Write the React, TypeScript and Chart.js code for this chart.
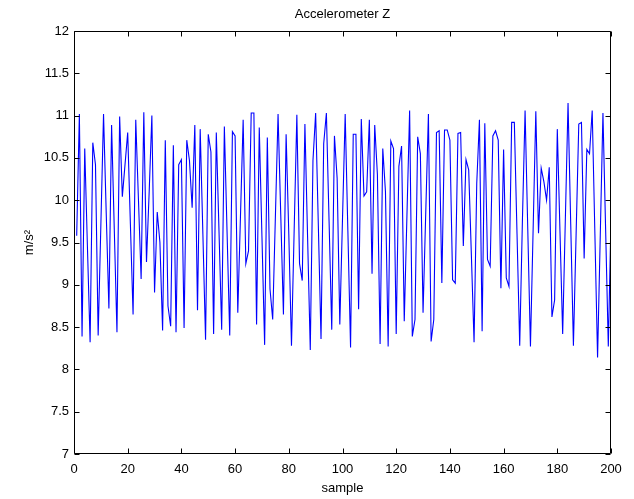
import React, { useEffect, useRef } from "react";
import { Chart, registerables } from "chart.js";

Chart.register(...registerables);

const TITLE = "Accelerometer Z";
const X_LABEL = "sample";
const Y_LABEL = "m/s²";

const X_MIN = 0;
const X_MAX = 200;
const X_STEP = 20;
const Y_MIN = 7;
const Y_MAX = 12;
const Y_STEP = 0.5;

// Accelerometer Z readings, samples 1..200
const valuesA = [
  9.58, 11.02, 8.39, 10.61, 9.45, 8.32, 10.68, 10.42, 8.4, 9.7,
  11.02, 9.85, 8.72, 10.89, 9.66, 8.44, 10.99, 10.04, 10.42, 10.8,
  9.72, 8.65, 10.95, 10.01, 9.07, 11.04, 9.27, 10.1, 11.0, 8.91,
  9.86, 9.5, 8.46, 10.71, 8.75, 8.51, 10.65, 8.44, 10.42, 10.48,
  8.49, 10.71, 10.47, 9.91, 10.89, 8.7, 10.84, 9.6, 8.35, 10.78,
];
const valuesB = [
  10.57, 8.42, 10.8, 9.64, 8.47, 10.87, 9.63, 8.4, 10.81, 10.76,
  8.67, 9.81, 10.95, 9.25, 9.4, 11.03, 11.03, 8.53, 10.86, 9.57,
  8.29, 10.74, 8.95, 8.59, 9.8, 11.02, 9.83, 8.65, 10.78, 9.6,
  8.28, 9.65, 11.01, 9.25, 9.05, 10.9, 9.56, 8.23, 10.47, 11.03,
  9.7, 8.36, 10.67, 11.03, 9.75, 8.47, 10.76, 10.26, 8.53, 9.78,
];
const valuesC = [
  11.02, 9.64, 8.26, 10.78, 10.78, 8.71, 10.96, 10.05, 10.1, 10.95,
  9.13, 10.89, 10.3, 8.3, 10.61, 10.1, 8.27, 10.7, 10.61, 8.42,
  10.4, 10.64, 8.57, 9.82, 11.06, 8.39, 8.59, 10.75, 10.55, 8.67,
  9.85, 11.02, 8.33, 8.59, 10.8, 10.82, 9.02, 10.83, 10.83, 10.71,
  9.06, 9.02, 10.79, 10.8, 9.46, 10.48, 10.36, 9.35, 8.32, 10.2,
];
const valuesD = [
  10.95, 8.45, 10.91, 9.3, 9.22, 10.76, 10.82, 10.71, 8.96, 10.6,
  9.08, 8.98, 10.92, 10.92, 9.6, 8.28, 9.75, 11.06, 9.66, 8.27,
  9.66, 11.05, 9.61, 10.38, 10.22, 10.0, 10.39, 8.62, 8.82, 10.84,
  9.63, 8.42, 9.78, 11.15, 9.72, 8.28, 9.59, 10.9, 10.92, 9.31,
  10.6, 10.55, 11.06, 9.6, 8.14, 9.58, 11.03, 9.65, 8.27, 9.79,
];

const values = [...valuesA, ...valuesB, ...valuesC, ...valuesD];

const FONT = "'Liberation Sans', Arial, Helvetica, sans-serif";

const framePlugin = {
  id: "frameTicks",
  afterDraw(chart: any) {
    const { ctx, chartArea: a, scales } = chart;
    const xs = scales.x;
    const ys = scales.y;
    const L = Math.round(a.left) + 0.5;
    const R = Math.round(a.right) - 0.5;
    const T = Math.round(a.top) + 0.5;
    const B = Math.round(a.bottom) - 0.5;
    const len = 5;
    ctx.save();
    ctx.strokeStyle = "#000";
    ctx.lineWidth = 1;
    ctx.beginPath();
    ctx.rect(L, T, R - L, B - T);
    xs.ticks.forEach((t: any) => {
      const px = Math.round(xs.getPixelForValue(t.value)) + 0.5;
      ctx.moveTo(px, B);
      ctx.lineTo(px, B - len);
      ctx.moveTo(px, T);
      ctx.lineTo(px, T + len);
    });
    ys.ticks.forEach((t: any) => {
      const py = Math.round(ys.getPixelForValue(t.value)) + 0.5;
      ctx.moveTo(L, py);
      ctx.lineTo(L + len, py);
      ctx.moveTo(R, py);
      ctx.lineTo(R - len, py);
    });
    ctx.stroke();
    ctx.restore();
  },
};

export default function App() {
  const ref = useRef<HTMLCanvasElement | null>(null);

  useEffect(() => {
    if (!ref.current) return;
    const points = values.map((v, i) => ({ x: i + 1, y: v }));
    const chart = new Chart(ref.current, {
      type: "line",
      data: {
        datasets: [
          {
            data: points,
            borderColor: "#0000ff",
            borderWidth: 1.1,
            pointRadius: 0,
            fill: false,
            tension: 0,
          },
        ],
      },
      options: {
        responsive: false,
        animation: false,
        layout: { padding: { left: 0, right: 23, top: 0, bottom: 0 } },
        plugins: {
          legend: { display: false },
          tooltip: { enabled: false },
          title: {
            display: true,
            text: TITLE,
            color: "#000",
            fullSize: false,
            font: { family: FONT, size: 13, weight: "normal" },
            padding: { top: 6.5, bottom: 8.9 },
          },
        },
        scales: {
          x: {
            type: "linear",
            min: X_MIN,
            max: X_MAX,
            grid: { display: false, drawTicks: false },
            border: { display: false },
            ticks: {
              stepSize: X_STEP,
              color: "#000",
              padding: 8,
              maxRotation: 0,
              autoSkip: false,
              font: { family: FONT, size: 13 },
              callback: (v: any) => String(v),
            },
            title: {
              display: true,
              text: X_LABEL,
              color: "#000",
              font: { family: FONT, size: 13 },
              padding: { top: 0, bottom: 3 },
            },
            afterFit: (s: any) => {
              s.height = 45;
            },
          },
          y: {
            min: Y_MIN,
            max: Y_MAX,
            grid: { display: false, drawTicks: false },
            border: { display: false },
            ticks: {
              stepSize: Y_STEP,
              color: "#000",
              padding: 5,
              autoSkip: false,
              font: { family: FONT, size: 13 },
              callback: (v: any) => String(v),
            },
            title: {
              display: true,
              text: Y_LABEL,
              color: "#000",
              font: { family: FONT, size: 13 },
              padding: { top: 22, bottom: 0 },
            },
            afterFit: (s: any) => {
              s.width = 74;
            },
          },
        },
      },
      plugins: [framePlugin],
    });
    return () => chart.destroy();
  }, []);

  return (
    <div style={{ position: "fixed", left: 0, top: 0, width: 634, height: 499, background: "#fff" }}>
      <canvas ref={ref} width={634} height={499} style={{ display: "block" }} />
    </div>
  );
}
